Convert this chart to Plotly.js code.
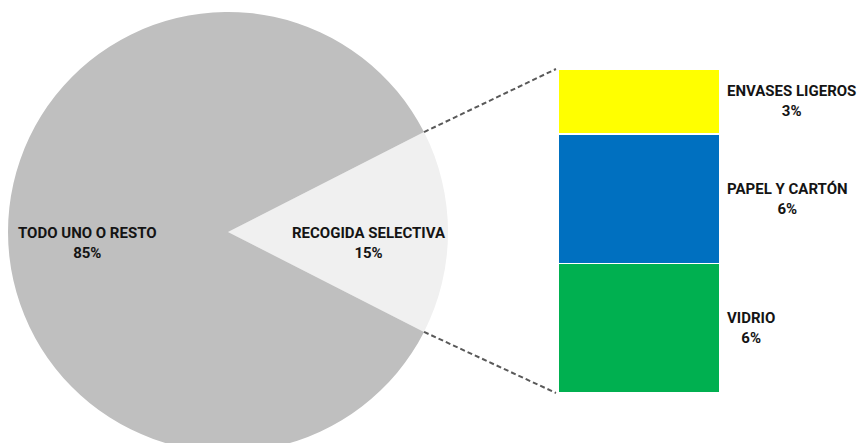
<!DOCTYPE html>
<html>
<head>
<meta charset="utf-8">
<script src="https://cdn.plot.ly/plotly-3.0.1.min.js"></script>
<style>html,body{margin:0;padding:0;overflow:hidden;background:#fff;}#chart{width:857px;height:460px;}</style>
</head>
<body>
<div id="chart"></div>
<script>
const pieLabels = ['RECOGIDA SELECTIVA', 'TODO UNO O RESTO'];
const pieValues = [15, 85];
const pieColors = ['#f0f0f0', '#bfbfbf'];

const barLabels = ['VIDRIO', 'PAPEL Y CARTÓN', 'ENVASES LIGEROS'];
const barValues = [6, 6, 3];
const barColors = ['#00b050', '#0070c0', '#ffff00'];

const W = 857, H = 460;
const px = x => x / W;
const py = y => 1 - y / H;

// pie geometry (pixels)
const pieCx = 228, pieCy = 232, pieR = 220;
// bar geometry (pixels)
const barL = 558, barR = 720, barTop = 69, barBot = 393;

const total = pieValues.reduce((a, b) => a + b, 0);
const half = pieValues[0] / total * 180; // half-angle of the exploded slice (deg)
const rotation = 90 - half;

const font = {family: 'Roboto, Arial, sans-serif', size: 15, color: '#141414', weight: 700};

const traces = [{
  type: 'pie',
  labels: pieLabels,
  values: pieValues,
  sort: false,
  direction: 'clockwise',
  rotation: rotation,
  marker: {colors: pieColors, line: {width: 0}},
  textinfo: 'none',
  hoverinfo: 'label+percent',
  showlegend: false,
  domain: {x: [px(pieCx - pieR), px(pieCx + pieR)], y: [py(pieCy + pieR), py(pieCy - pieR)]}
}];

barLabels.forEach((lab, i) => {
  traces.push({
    type: 'bar',
    x: ['RS'],
    y: [barValues[i]],
    name: lab,
    marker: {color: barColors[i], line: {color: '#ffffff', width: 1.5}},
    showlegend: false,
    hoverinfo: 'name+y',
    xaxis: 'x', yaxis: 'y'
  });
});

const barTotal = barValues.reduce((a, b) => a + b, 0);
const annotations = [];
// pie labels
const pieLabelX = [369, 87];
pieLabels.forEach((lab, i) => {
  annotations.push({
    xref: 'paper', yref: 'paper', x: px(pieLabelX[i]), y: py(243),
    xanchor: 'center', yanchor: 'middle', align: 'center',
    text: lab + '<br>' + Math.round(pieValues[i] / total * 100) + '%',
    showarrow: false, font: font
  });
});
// bar labels
let cum = 0;
barLabels.forEach((lab, i) => {
  const mid = cum + barValues[i] / 2;
  cum += barValues[i];
  annotations.push({
    xref: 'paper', yref: 'y', x: px(725), y: mid,
    xanchor: 'left', yanchor: 'middle', align: 'center',
    text: lab + '<br>' + barValues[i] + '%',
    showarrow: false, font: font
  });
});

// connector lines from slice edges to bar corners
const rad = half * Math.PI / 180;
const ex = pieCx + pieR * Math.cos(rad);
const eyTop = pieCy - pieR * Math.sin(rad);
const eyBot = pieCy + pieR * Math.sin(rad);
const lineStyle = {color: '#595959', width: 2, dash: '5px,3px'};
const shapes = [
  {type: 'line', xref: 'paper', yref: 'paper', x0: px(ex), y0: py(eyTop), x1: px(barL - 2), y1: py(barTop), line: lineStyle},
  {type: 'line', xref: 'paper', yref: 'paper', x0: px(ex), y0: py(eyBot), x1: px(barL - 2), y1: py(barBot), line: lineStyle}
];

const layout = {
  width: W, height: H,
  margin: {l: 0, r: 0, t: 0, b: 0},
  paper_bgcolor: '#ffffff', plot_bgcolor: 'rgba(0,0,0,0)',
  barmode: 'stack', bargap: 0,
  xaxis: {domain: [px(barL), px(barR)], range: [-0.5, 0.5], visible: false, fixedrange: true},
  yaxis: {domain: [py(barBot), py(barTop)], range: [0, barTotal], visible: false, fixedrange: true},
  annotations: annotations,
  shapes: shapes,
  showlegend: false
};

Plotly.newPlot('chart', traces, layout, {displayModeBar: false, staticPlot: true});
</script>
</body>
</html>
